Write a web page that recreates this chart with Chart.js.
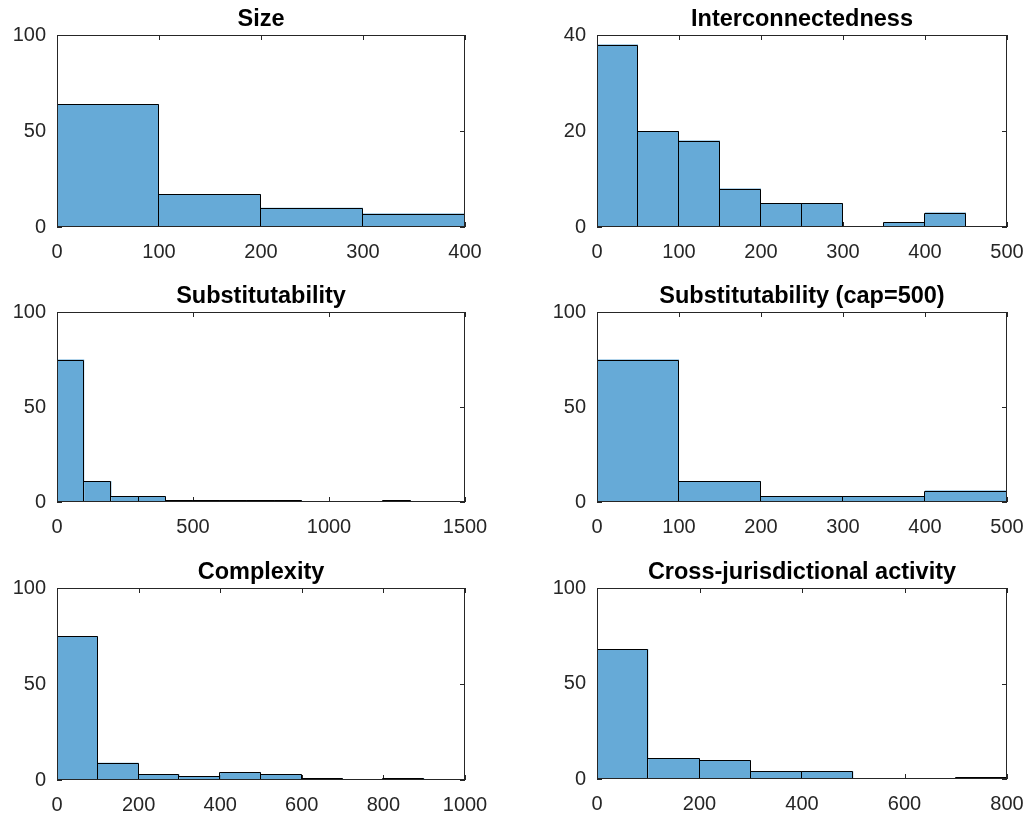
<!DOCTYPE html>
<html lang="en">
<head>
<meta charset="UTF-8">
<title>Histograms</title>
<script src="https://cdn.jsdelivr.net/npm/chart.js@4.4.1/dist/chart.umd.min.js"></script>
<style>
  body { margin: 0; background: #fff; }
  #wrap { position: relative; width: 1029px; height: 816px; overflow: hidden; }
  #wrap canvas { position: absolute; }
</style>
</head>
<body>
<div id="wrap">
  <canvas id="c1"></canvas>
  <canvas id="c2"></canvas>
  <canvas id="c3"></canvas>
  <canvas id="c4"></canvas>
  <canvas id="c5"></canvas>
  <canvas id="c6"></canvas>
</div>
<script>
// bin edges and counts
var sizeEdges = [0, 100, 200, 300, 400];
var sizeCounts = [64, 17, 10, 7];

var interEdges = [0, 50, 100, 150, 200, 250, 300, 350, 400, 450, 500];
var interCounts = [38, 20, 18, 8, 5, 5, 0, 1, 3, 0];

var substEdges = [0, 100, 200, 300, 400, 500, 600, 700, 800, 900, 1000, 1100, 1200, 1300, 1400, 1500];
var substCounts = [75, 11, 3, 3, 1, 1, 1, 1, 1, 0, 0, 0, 1, 0, 0];

var substCapEdges = [0, 100, 200, 300, 400, 500];
var substCapCounts = [75, 11, 3, 3, 6];

var complexEdges = [0, 100, 200, 300, 400, 500, 600, 700, 800, 900, 1000];
var complexCounts = [75, 9, 3, 2, 4, 3, 1, 0, 1, 0];

var crossEdges = [0, 100, 200, 300, 400, 500, 600, 700, 800];
var crossCounts = [68, 11, 10, 4, 4, 0, 0, 1];

// tick labels
var sizeXTicks = [0, 100, 200, 300, 400];
var interXTicks = [0, 100, 200, 300, 400, 500];
var substXTicks = [0, 500, 1000, 1500];
var substCapXTicks = [0, 100, 200, 300, 400, 500];
var complexXTicks = [0, 200, 400, 600, 800, 1000];
var crossXTicks = [0, 200, 400, 600, 800];
var yTicks100 = [0, 50, 100];
var yTicks40 = [0, 20, 40];

Chart.defaults.font.family = '"Liberation Sans", Arial, sans-serif';
Chart.defaults.color = '#262626';

var axisColor = '#262626';

// matlab style: box round the axes, ticks pointing inward, crisp bar edges
var boxTicks = {
    id: 'boxTicks',
    beforeDatasetsDraw: function(chart) {
        var ctx = chart.ctx, a = chart.chartArea;
        var xs = chart.scales.x, ys = chart.scales.y;
        var len = 5;
        ctx.save();
        ctx.strokeStyle = axisColor;
        ctx.lineWidth = 1;
        ctx.beginPath();
        xs.ticks.forEach(function(t) {
            var px = Math.round(xs.getPixelForValue(t.value)) + 0.5;
            ctx.moveTo(px, a.bottom); ctx.lineTo(px, a.bottom - len);
            ctx.moveTo(px, a.top); ctx.lineTo(px, a.top + len);
        });
        ys.ticks.forEach(function(t) {
            var py = Math.round(ys.getPixelForValue(t.value)) + 0.5;
            ctx.moveTo(a.left, py); ctx.lineTo(a.left + len, py);
            ctx.moveTo(a.right, py); ctx.lineTo(a.right - len, py);
        });
        ctx.stroke();
        ctx.restore();
    },
    afterDatasetsDraw: function(chart) {
        var ctx = chart.ctx, a = chart.chartArea;
        ctx.save();
        // bar outlines from the bar elements the library laid out
        ctx.strokeStyle = '#000000';
        ctx.lineWidth = 1;
        ctx.beginPath();
        chart.getDatasetMeta(0).data.forEach(function(el) {
            if (Math.abs(el.base - el.y) < 0.5) return;
            var l = Math.max(Math.round(el.x - el.width / 2) - 0.5, Math.round(a.left) + 0.5);
            var r = Math.round(el.x + el.width / 2) - 0.5;
            var t = Math.round(el.y) + 0.5;
            var b = Math.round(el.base);
            ctx.moveTo(l, b); ctx.lineTo(l, t); ctx.lineTo(r, t); ctx.lineTo(r, b);
        });
        ctx.stroke();
        ctx.strokeStyle = axisColor;
        ctx.strokeRect(Math.round(a.left) + 0.5, Math.round(a.top) + 0.5,
            Math.round(a.right) - Math.round(a.left) - 1, Math.round(a.bottom) - Math.round(a.top) - 1);
        ctx.restore();
    }
};

function plainNumber(v) { return String(v); }

function makeHist(id, title, edges, counts, xTicks, yTicks, pos) {
    var canvas = document.getElementById(id);
    canvas.width = pos.w;
    canvas.height = 35 + pos.plotH + 33;
    canvas.style.left = pos.left + 'px';
    canvas.style.top = pos.top + 'px';

    var points = [];
    for (var i = 0; i < counts.length; i++) {
        points.push({ x: (edges[i] + edges[i + 1]) / 2, y: counts[i] });
    }

    return new Chart(canvas.getContext('2d'), {
        type: 'bar',
        data: {
            datasets: [{
                data: points,
                backgroundColor: '#66aad7',
                borderWidth: 0,
                inflateAmount: 0,
                barPercentage: 1,
                categoryPercentage: 1
            }]
        },
        options: {
            responsive: false,
            animation: false,
            layout: { padding: { left: 0, right: pos.padR, top: 0, bottom: 0 } },
            plugins: {
                legend: { display: false },
                tooltip: { enabled: false },
                title: {
                    display: true,
                    text: title,
                    fullSize: false,
                    color: '#000000',
                    font: { size: 23.5, weight: 'bold' },
                    padding: { top: 5.9, bottom: 0.9 }
                }
            },
            scales: {
                x: {
                    type: 'linear',
                    min: xTicks[0],
                    max: xTicks[xTicks.length - 1],
                    offset: false,
                    grid: { display: false, drawTicks: true, tickLength: 13 },
                    border: { display: false },
                    ticks: { font: { size: 20 }, padding: 0, maxRotation: 0, autoSkip: false, callback: plainNumber },
                    afterBuildTicks: function(s) { s.ticks = xTicks.map(function(v) { return { value: v }; }); },
                    afterFit: function(s) { s.height = 33; }
                },
                y: {
                    type: 'linear',
                    min: yTicks[0],
                    max: yTicks[yTicks.length - 1],
                    grid: { display: false, drawTicks: true, tickLength: 11 },
                    border: { display: false },
                    ticks: { font: { size: 20 }, padding: 0, callback: plainNumber },
                    afterBuildTicks: function(s) { s.ticks = yTicks.map(function(v) { return { value: v }; }); },
                    afterFit: function(s) { s.width = 57; }
                }
            }
        },
        plugins: [boxTicks]
    });
}

var leftCol = { left: 0, w: 500, padR: 35 };
var rightCol = { left: 540, w: 489, padR: 22 };
function at(col, top, plotH) {
    return { left: col.left, w: col.w, padR: col.padR, top: top, plotH: plotH };
}

makeHist('c1', 'Size', sizeEdges, sizeCounts, sizeXTicks, yTicks100, at(leftCol, 0, 192));
makeHist('c2', 'Interconnectedness', interEdges, interCounts, interXTicks, yTicks40, at(rightCol, 0, 192));
makeHist('c3', 'Substitutability', substEdges, substCounts, substXTicks, yTicks100, at(leftCol, 277.3, 190.4));
makeHist('c4', 'Substitutability (cap=500)', substCapEdges, substCapCounts, substCapXTicks, yTicks100, at(rightCol, 277.3, 190.4));
makeHist('c5', 'Complexity', complexEdges, complexCounts, complexXTicks, yTicks100, at(leftCol, 552.5, 192));
makeHist('c6', 'Cross-jurisdictional activity', crossEdges, crossCounts, crossXTicks, yTicks100, at(rightCol, 553, 191.5));
</script>
</body>
</html>
